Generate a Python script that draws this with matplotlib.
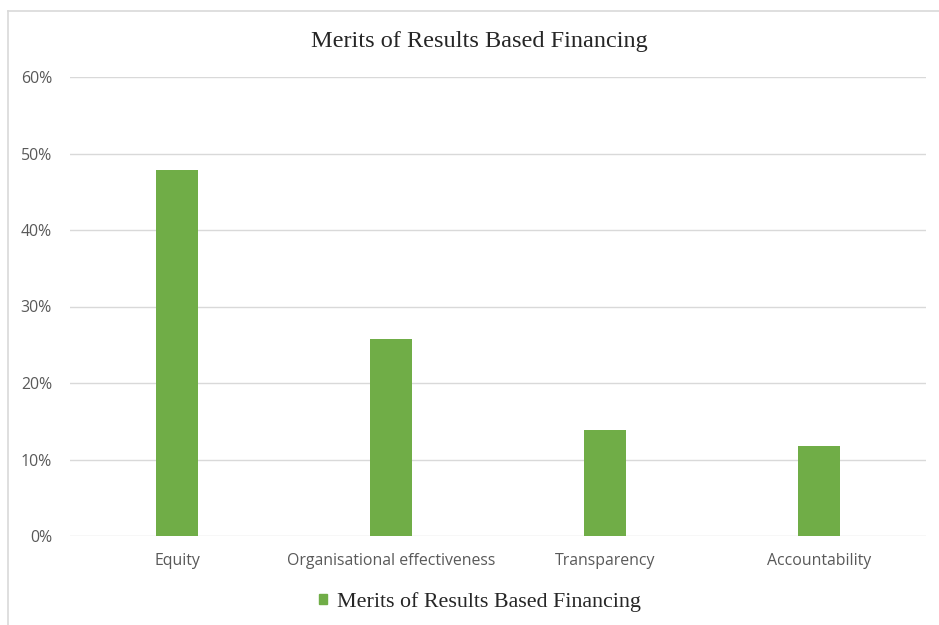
import matplotlib
matplotlib.use("Agg")
import matplotlib.pyplot as plt
from matplotlib.patches import Rectangle
from matplotlib.lines import Line2D

categories = ["Equity", "Organisational effectiveness", "Transparency", "Accountability"]
values = [0.478, 0.258, 0.138, 0.118]
yticks = [0.0, 0.1, 0.2, 0.3, 0.4, 0.5, 0.6]
ytick_labels = ["0%", "10%", "20%", "30%", "40%", "50%", "60%"]
title = "Merits of Results Based Financing"
series_name = "Merits of Results Based Financing"

W, H = 939, 625
fig = plt.figure(figsize=(W / 100, H / 100), dpi=100)
fig.patch.set_facecolor("white")

# outer frame (top and left visible)
fig.add_artist(Line2D([8 / W, 8 / W], [0, 1 - 11 / H], color="#D9D9D9", lw=1.2, transform=fig.transFigure))
fig.add_artist(Line2D([8 / W, 1], [1 - 11 / H, 1 - 11 / H], color="#D9D9D9", lw=1.2, transform=fig.transFigure))

ax = fig.add_axes([70 / W, 1 - 536 / H, (926 - 70) / W, (536 - 77) / H])
x = list(range(len(categories)))
ax.bar(x, values, width=0.2, color="#70AD47", zorder=3, label=series_name)
ax.set_xlim(-0.5, len(categories) - 0.5)
ax.set_ylim(0, 0.6)
ax.set_yticks(yticks)
ax.set_yticklabels(ytick_labels)
ax.set_xticks(x)
ax.set_xticklabels(categories)
for s in ax.spines.values():
    s.set_visible(False)
ax.grid(axis="y", color="#D9D9D9", lw=1, zorder=0)
ax.tick_params(axis="both", length=0, labelsize=11.4, colors="#595959", labelcolor="#595959")
ax.tick_params(axis="y", pad=13)
ax.tick_params(axis="x", pad=12)
for lab in ax.get_xticklabels() + ax.get_yticklabels():
    lab.set_fontfamily("Open Sans")

fig.text(479 / W, 1 - 42 / H, title, ha="center", va="center", fontsize=17.5,
         family="Liberation Serif", color="#262626")

leg = fig.legend(handles=[Rectangle((0, 0), 1, 1, color="#70AD47")], labels=[series_name],
                 loc="center", bbox_to_anchor=(480 / W, 1 - 602 / H), frameon=False,
                 prop={"family": "Liberation Serif", "size": 15.8}, handlelength=0.38,
                 handleheight=0.38, handletextpad=0.45, labelcolor="#262626")

fig.savefig("out.png", dpi=100)
